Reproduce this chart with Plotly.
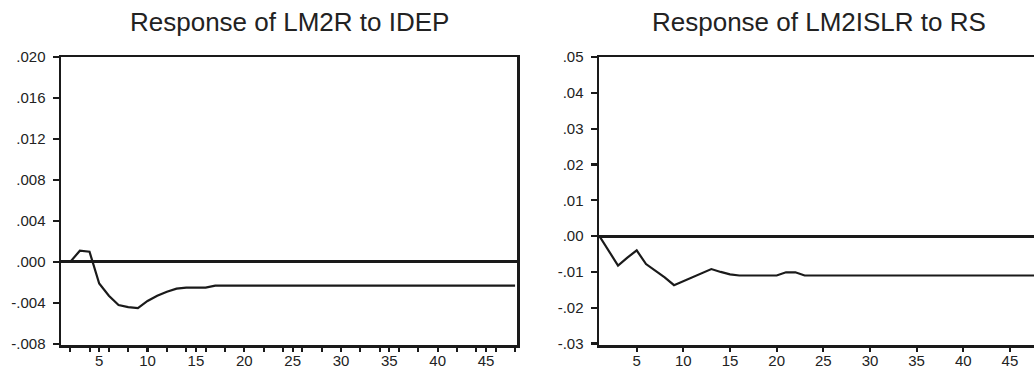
import plotly.graph_objects as go

# ---------------- data ----------------
periods = list(range(1, 49))

left_title = "Response of LM2R to IDEP"
right_title = "Response of LM2ISLR to RS"

# Response of LM2R to IDEP (periods 1..48)
lm2r_head = [0.0, 0.0, 0.0011, 0.0010, -0.0021, -0.0033, -0.0042, -0.0044,
             -0.0045, -0.0038, -0.0033, -0.0029, -0.0026, -0.0025, -0.0025, -0.0025]
lm2r_tail = [-0.0023] * (48 - len(lm2r_head))
lm2r_idep = lm2r_head + lm2r_tail

# Response of LM2ISLR to RS (periods 1..48)
lm2islr_head = [0.0, -0.0042, -0.0082, -0.0060, -0.0040, -0.0078, -0.0097, -0.0115,
                -0.0137, -0.0126, -0.0113, -0.0103, -0.0092, -0.0100, -0.0107, -0.0110,
                -0.0110, -0.0110, -0.0110, -0.0110, -0.0101, -0.0101]
lm2islr_tail = [-0.0110] * (48 - len(lm2islr_head))
lm2islr_rs = lm2islr_head + lm2islr_tail

x_tickvals = [5, 10, 15, 20, 25, 30, 35, 40, 45]
x_ticktext = ["5", "10", "15", "20", "25", "30", "35", "40", "45"]

left_yvals = [-0.008, -0.004, 0.0, 0.004, 0.008, 0.012, 0.016, 0.020]
left_ytext = ["-.008", "-.004", ".000", ".004", ".008", ".012", ".016", ".020"]

right_yvals = [-0.03, -0.02, -0.01, 0.0, 0.01, 0.02, 0.03, 0.04, 0.05]
right_ytext = ["-.03", "-.02", "-.01", ".00", ".01", ".02", ".03", ".04", ".05"]

# ---------------- figure ----------------
W, H = 1034, 369
INK = "#1a1a1a"
TXT = "#222222"
FONT = "Liberation Sans, Arial, sans-serif"

fig = go.Figure()
fig.add_trace(go.Scatter(x=periods, y=lm2r_idep, mode="lines",
                         line=dict(color=INK, width=2.2), xaxis="x", yaxis="y",
                         showlegend=False, hoverinfo="skip"))
fig.add_trace(go.Scatter(x=periods, y=lm2islr_rs, mode="lines",
                         line=dict(color=INK, width=2.2), xaxis="x2", yaxis="y2",
                         showlegend=False, hoverinfo="skip"))

ydom = [1 - 345 / H, 1 - 57 / H]

common_x = dict(showgrid=False, zeroline=False, showline=True, linecolor=INK,
                linewidth=2.5, ticks="outside", ticklen=4, tickwidth=2.2,
                tickcolor=INK, tickvals=x_tickvals, ticktext=x_ticktext,
                tickfont=dict(family=FONT, size=15, color=TXT), automargin=False,
                ticklabelstandoff=-4)
common_y = dict(showgrid=False, zeroline=True, zerolinecolor=INK, zerolinewidth=3,
                showline=True, linecolor=INK, linewidth=2.5, ticks="outside",
                ticklen=6, tickwidth=2.2, tickcolor=INK,
                tickfont=dict(family=FONT, size=15, color=TXT), automargin=False,
                ticklabelstandoff=4)

fig.update_layout(
    width=W, height=H,
    margin=dict(l=0, r=0, t=0, b=0),
    paper_bgcolor="white", plot_bgcolor="white",
    xaxis=dict(domain=[61 / W, 517 / W], range=[1.05, 48.2], mirror=True,
               minor=dict(dtick=2, tick0=0, ticks="outside", ticklen=4, tickwidth=2,
                          tickcolor=INK),
               anchor="y", **common_x),
    yaxis=dict(domain=ydom, range=[-0.0081, 0.020], tickvals=left_yvals,
               ticktext=left_ytext, mirror=True, anchor="x", **common_y),
    xaxis2=dict(domain=[599 / W, 1.0], range=[0.96, 47.58], mirror=True,
                anchor="y2", **common_x),
    yaxis2=dict(domain=ydom, range=[-0.0304, 0.05], tickvals=right_yvals,
                ticktext=right_ytext, mirror=False, anchor="x2", **common_y),
    annotations=[
        dict(text=left_title, x=289 / W, y=1 - 22 / H, xref="paper", yref="paper",
             xanchor="center", yanchor="middle", showarrow=False,
             font=dict(family=FONT, size=26, color=TXT)),
        dict(text=right_title, x=819 / W, y=1 - 22 / H, xref="paper", yref="paper",
             xanchor="center", yanchor="middle", showarrow=False,
             font=dict(family=FONT, size=26, color=TXT)),
    ],
)

fig.write_html(
    "out.html",
    config={"displayModeBar": False, "staticPlot": True},
    post_script="document.body.style.margin='0px';document.body.style.overflow='hidden';",
)
